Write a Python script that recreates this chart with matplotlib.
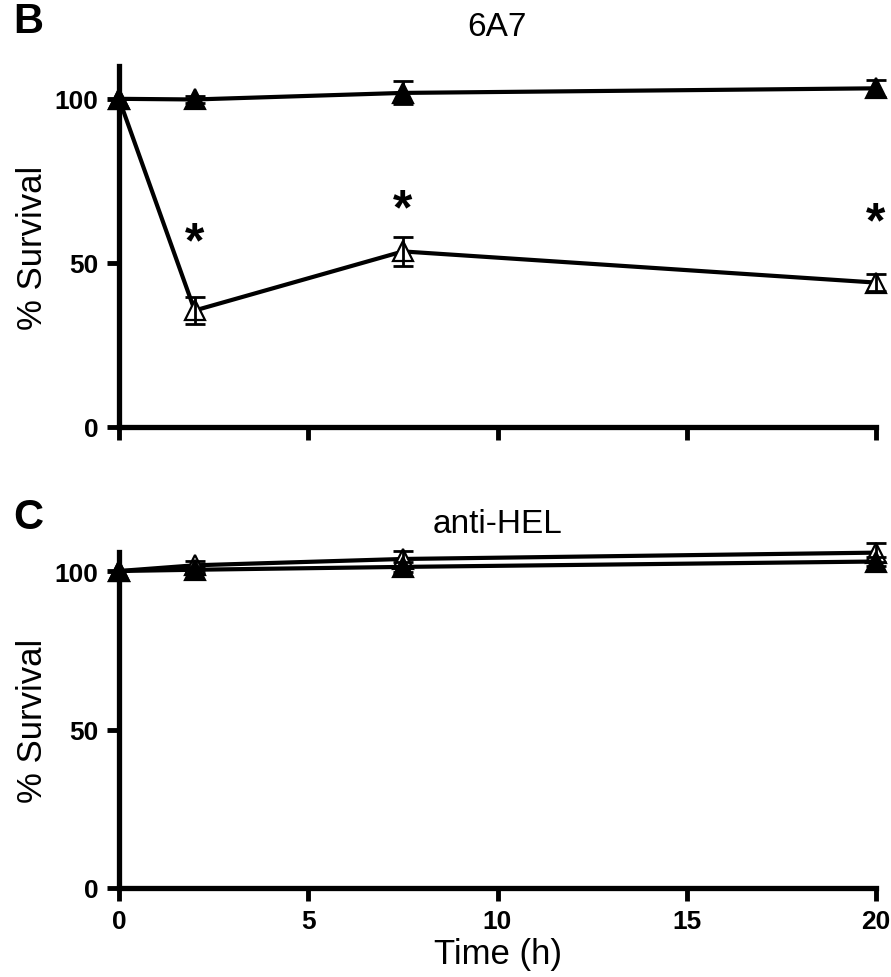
import numpy as np
import matplotlib.pyplot as plt

plt.rcParams['font.family'] = ['Liberation Sans', 'DejaVu Sans']

# time points (h)
time = [0, 2, 7.5, 20]

# panel B, 6A7
b_ctrl = [100, 99.8, 101.8, 103.2]
b_ctrl_err = [0, 1.0, 3.5, 2.5]
b_treat = [100, 35.5, 53.5, 44.0]
b_treat_err = [0, 4.0, 4.5, 2.5]
b_star_x = [2, 7.5, 20]
b_star_y = [56, 66, 62]

# panel C, anti-HEL
c_ctrl = [100, 100.4, 101.3, 103.0]
c_ctrl_err = [0, 1.0, 1.5, 1.5]
c_treat = [100, 101.8, 103.8, 105.8]
c_treat_err = [0, 1.5, 2.5, 3.0]

W, H = 891, 978
fig = plt.figure(figsize=(W / 100, H / 100), dpi=100)


def px_axes(left, top, right, bottom):
    return fig.add_axes([left / W, 1 - bottom / H, (right - left) / W, (bottom - top) / H])


def style(ax, ytop, show_xlabels):
    for s in ['top', 'right']:
        ax.spines[s].set_visible(False)
    for s in ['left', 'bottom']:
        ax.spines[s].set_linewidth(3.8)
    ax.set_xlim(0, 20)
    ax.set_ylim(0, ytop)
    ax.set_xticks([0, 5, 10, 15, 20])
    ax.set_yticks([0, 50, 100])
    ax.tick_params(length=9, width=3.5, labelsize=19, pad=6)
    for lab in ax.get_yticklabels() + ax.get_xticklabels():
        lab.set_fontweight('bold')
    if not show_xlabels:
        ax.set_xticklabels([])
    ax.set_ylabel('% Survival', fontsize=25, labelpad=4)


def series(ax, y, err, filled):
    ax.plot(time, y, '-', color='black', lw=3.0, marker='^', ms=14,
            mfc='black' if filled else 'white', mec='black', mew=1.6,
            clip_on=False, zorder=3)
    ax.errorbar(time, y, yerr=err, fmt='none', ecolor='black', elinewidth=2.0,
                capsize=7, capthick=2.0, clip_on=False, zorder=4)


axb = px_axes(119, 67, 876, 428)
style(axb, 110, False)
series(axb, b_treat, b_treat_err, False)
series(axb, b_ctrl, b_ctrl_err, True)
for sx, sy in zip(b_star_x, b_star_y):
    axb.text(sx, sy, '*', ha='center', va='center', fontsize=36, fontweight='bold')

axc = px_axes(119, 553, 876, 889)
style(axc, 106, True)
series(axc, c_treat, c_treat_err, False)
series(axc, c_ctrl, c_ctrl_err, True)
axc.set_xlabel('Time (h)', fontsize=25, labelpad=3)

fig.text(13 / W, 1 - 33 / H, 'B', fontsize=30, fontweight='bold', va='baseline')
fig.text(497 / W, 1 - 36 / H, '6A7', fontsize=24, ha='center', va='baseline')
fig.text(13 / W, 1 - 529 / H, 'C', fontsize=30, fontweight='bold', va='baseline')
fig.text(497 / W, 1 - 533 / H, 'anti-HEL', fontsize=24, ha='center', va='baseline')

fig.savefig('out.png', dpi=100)
